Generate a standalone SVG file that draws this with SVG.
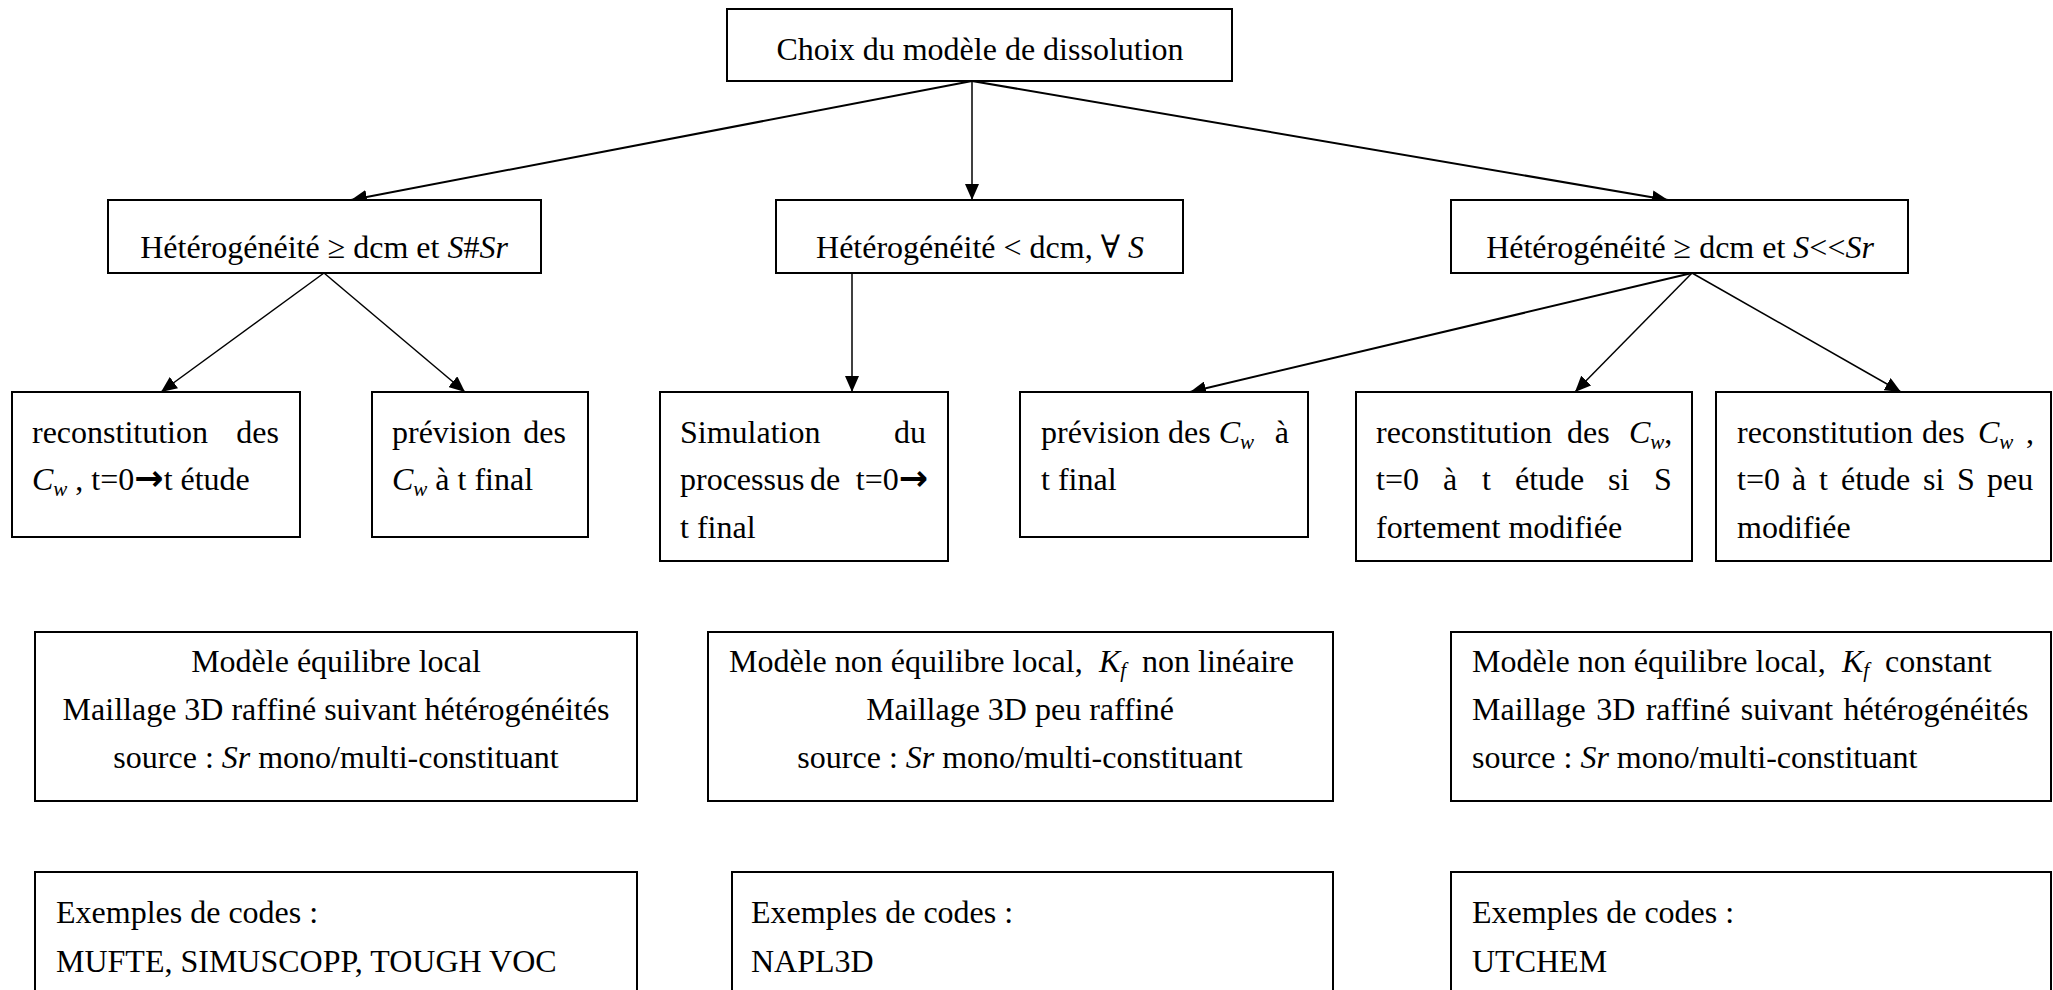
<svg xmlns="http://www.w3.org/2000/svg" width="2053" height="990" viewBox="0 0 2053 990">
<style>
.box{fill:#fff;stroke:#000;stroke-width:2}
.t{font-family:"Liberation Serif","Times New Roman",serif;font-size:32px;fill:#000}
.i{font-style:italic}
.sub{font-size:21px;font-style:italic}
.ar{fill:none;stroke:#000}
.arr{font-family:"DejaVu Sans",sans-serif;font-weight:bold;font-size:35px}
.sym{font-family:"DejaVu Serif","Liberation Serif",serif}
</style>
<defs>
<marker id="ah" markerUnits="userSpaceOnUse" markerWidth="16" markerHeight="14" refX="16" refY="7" orient="auto">
<path d="M0,0 L16,7 L0,14 Z" fill="#000"/>
</marker>
</defs>
<rect width="2053" height="990" fill="#fff"/>

<g id="connectors">
<line class="ar" stroke-width="2" x1="972" y1="81" x2="351" y2="200" marker-end="url(#ah)"/>
<line class="ar" stroke-width="1.5" x1="972" y1="81" x2="972" y2="200" marker-end="url(#ah)"/>
<line class="ar" stroke-width="2" x1="972" y1="81" x2="1668" y2="200" marker-end="url(#ah)"/>
<line class="ar" stroke-width="1.5" x1="324" y1="273" x2="161" y2="392" marker-end="url(#ah)"/>
<line class="ar" stroke-width="1.5" x1="324" y1="273" x2="465" y2="392" marker-end="url(#ah)"/>
<line class="ar" stroke-width="1.5" x1="852" y1="273" x2="852" y2="392" marker-end="url(#ah)"/>
<line class="ar" stroke-width="2" x1="1692" y1="273" x2="1190" y2="392" marker-end="url(#ah)"/>
<line class="ar" stroke-width="1.5" x1="1692" y1="273" x2="1575" y2="392" marker-end="url(#ah)"/>
<line class="ar" stroke-width="1.5" x1="1692" y1="273" x2="1901" y2="392" marker-end="url(#ah)"/>
</g>

<g id="n-top">
<rect class="box" x="727" y="9" width="505" height="72"/>
<text class="t" x="980" y="60" text-anchor="middle">Choix du modèle de dissolution</text>
</g>

<g id="n-a">
<rect class="box" x="108" y="200" width="433" height="73"/>
<text class="t" x="324" y="258" text-anchor="middle">Hétérogénéité ≥ dcm et <tspan class="i">S</tspan>#<tspan class="i">Sr</tspan></text>
</g>

<g id="n-b">
<rect class="box" x="776" y="200" width="407" height="73"/>
<text class="t" x="980" y="258" text-anchor="middle">Hétérogénéité &lt; dcm, <tspan class="sym">∀</tspan> <tspan class="i">S</tspan></text>
</g>

<g id="n-c">
<rect class="box" x="1451" y="200" width="457" height="73"/>
<text class="t" x="1680" y="258" text-anchor="middle">Hétérogénéité ≥ dcm et <tspan class="i">S</tspan>&lt;&lt;<tspan class="i">Sr</tspan></text>
</g>

<g id="n-1">
<rect class="box" x="12" y="392" width="288" height="145"/>
<text class="t" x="32" y="443">reconstitution</text>
<text class="t" x="279" y="443" text-anchor="end">des</text>
<text class="t" x="32" y="490"><tspan class="i">C</tspan><tspan class="sub" dy="6">w</tspan><tspan dy="-6"> , t=0</tspan><tspan class="arr">→</tspan>t étude</text>
</g>

<g id="n-2">
<rect class="box" x="372" y="392" width="216" height="145"/>
<text class="t" x="392" y="443">prévision</text>
<text class="t" x="566" y="443" text-anchor="end">des</text>
<text class="t" x="392" y="490"><tspan class="i">C</tspan><tspan class="sub" dy="6">w</tspan><tspan dy="-6"> à t final</tspan></text>
</g>

<g id="n-3">
<rect class="box" x="660" y="392" width="288" height="169"/>
<text class="t" x="680" y="443">Simulation</text>
<text class="t" x="926" y="443" text-anchor="end">du</text>
<text class="t" x="680" y="490">processus</text>
<text class="t" x="810" y="490">de</text>
<text class="t" x="928" y="490" text-anchor="end">t=0<tspan class="arr">→</tspan></text>
<text class="t" x="680" y="538">t final</text>
</g>

<g id="n-4">
<rect class="box" x="1020" y="392" width="288" height="145"/>
<text class="t" x="1041" y="443">prévision des <tspan class="i">C</tspan><tspan class="sub" dy="6">w</tspan></text>
<text class="t" x="1289" y="443" text-anchor="end">à</text>
<text class="t" x="1041" y="490">t final</text>
</g>

<g id="n-5">
<rect class="box" x="1356" y="392" width="336" height="169"/>
<text class="t" x="1376" y="443">reconstitution</text>
<text class="t" x="1567" y="443">des</text>
<text class="t" x="1629" y="443"><tspan class="i">C</tspan><tspan class="sub" dy="6">w</tspan><tspan dy="-6">,</tspan></text>
<text class="t" y="490"><tspan x="1376">t=0</tspan><tspan x="1443">à</tspan><tspan x="1482">t</tspan><tspan x="1515">étude</tspan><tspan x="1608">si</tspan><tspan x="1654">S</tspan></text>
<text class="t" x="1376" y="538">fortement modifiée</text>
</g>

<g id="n-6">
<rect class="box" x="1716" y="392" width="335" height="169"/>
<text class="t" x="1737" y="443">reconstitution</text>
<text class="t" x="1922" y="443">des</text>
<text class="t" x="1978" y="443"><tspan class="i">C</tspan><tspan class="sub" dy="6">w</tspan></text>
<text class="t" x="2026" y="443">,</text>
<text class="t" y="490"><tspan x="1737">t=0</tspan><tspan x="1792">à</tspan><tspan x="1819">t</tspan><tspan x="1841">étude</tspan><tspan x="1923">si</tspan><tspan x="1957">S</tspan><tspan x="1987">peu</tspan></text>
<text class="t" x="1737" y="538">modifiée</text>
</g>

<g id="n-m1">
<rect class="box" x="35" y="632" width="602" height="169"/>
<text class="t" x="336" y="672" text-anchor="middle">Modèle équilibre local</text>
<text class="t" x="336" y="720" text-anchor="middle">Maillage 3D raffiné suivant hétérogénéités</text>
<text class="t" x="336" y="768" text-anchor="middle">source : <tspan class="i">Sr</tspan> mono/multi-constituant</text>
</g>

<g id="n-m2">
<rect class="box" x="708" y="632" width="625" height="169"/>
<text class="t" y="672"><tspan x="729">Modèle non équilibre local,</tspan><tspan x="1099" class="i">K</tspan><tspan class="sub" dy="5">f</tspan><tspan x="1142" dy="-5">non linéaire</tspan></text>
<text class="t" x="1020" y="720" text-anchor="middle">Maillage 3D peu raffiné</text>
<text class="t" x="1020" y="768" text-anchor="middle">source : <tspan class="i">Sr</tspan> mono/multi-constituant</text>
</g>

<g id="n-m3">
<rect class="box" x="1451" y="632" width="600" height="169"/>
<text class="t" y="672"><tspan x="1472">Modèle non équilibre local,</tspan><tspan x="1842" class="i">K</tspan><tspan class="sub" dy="5">f</tspan><tspan x="1885" dy="-5">constant</tspan></text>
<text class="t" x="1472" y="720" word-spacing="2.4">Maillage 3D raffiné suivant hétérogénéités</text>
<text class="t" x="1472" y="768">source : <tspan class="i">Sr</tspan> mono/multi-constituant</text>
</g>

<g id="n-e1">
<rect class="box" x="35" y="872" width="602" height="130"/>
<text class="t" x="56" y="923">Exemples de codes :</text>
<text class="t" x="56" y="972">MUFTE, SIMUSCOPP, TOUGH VOC</text>
</g>

<g id="n-e2">
<rect class="box" x="732" y="872" width="601" height="130"/>
<text class="t" x="751" y="923">Exemples de codes :</text>
<text class="t" x="751" y="972">NAPL3D</text>
</g>

<g id="n-e3">
<rect class="box" x="1451" y="872" width="600" height="130"/>
<text class="t" x="1472" y="923">Exemples de codes :</text>
<text class="t" x="1472" y="972">UTCHEM</text>
</g>
</svg>
